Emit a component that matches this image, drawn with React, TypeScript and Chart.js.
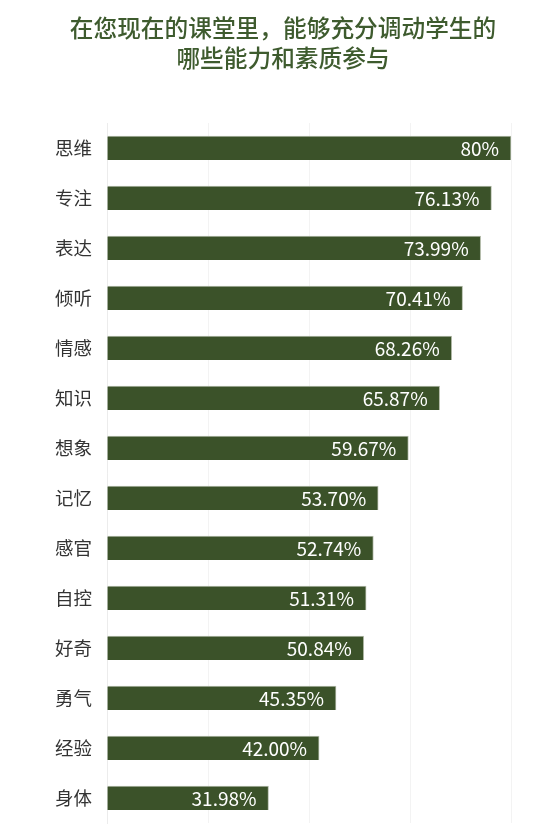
import React, { useEffect, useRef } from "react";
import { Chart, registerables } from "chart.js";

Chart.register(...registerables);

const titleLines = ["在您现在的课堂里，能够充分调动学生的", "哪些能力和素质参与"];
const categories = ["思维", "专注", "表达", "倾听", "情感", "知识", "想象", "记忆", "感官", "自控", "好奇", "勇气", "经验", "身体"];
const values = [80, 76.13, 73.99, 70.41, 68.26, 65.87, 59.67, 53.7, 52.74, 51.31, 50.84, 45.35, 42.0, 31.98];
const valueLabels = ["80%", "76.13%", "73.99%", "70.41%", "68.26%", "65.87%", "59.67%", "53.70%", "52.74%", "51.31%", "50.84%", "45.35%", "42.00%", "31.98%"];
const xTicks = [0, 20, 40, 60, 80];

const FONT = "'Noto Sans CJK SC', 'Noto Sans', sans-serif";
const BAR = "#3b5229";
const TITLE = "#3e5b2e";

const titlePlugin = {
  id: "customTitle",
  afterDraw(chart: any) {
    const { ctx } = chart;
    ctx.save();
    ctx.fillStyle = TITLE;
    ctx.font = `500 23.7px ${FONT}`;
    ctx.textAlign = "center";
    ctx.textBaseline = "middle";
    titleLines.forEach((t, i) => ctx.fillText(t, 283, 28 + i * 30));
    ctx.restore();
  },
};

const valueLabelPlugin = {
  id: "valueLabels",
  afterDatasetsDraw(chart: any) {
    const { ctx } = chart;
    const meta = chart.getDatasetMeta(0);
    ctx.save();
    ctx.fillStyle = "#ffffff";
    ctx.font = `400 19px ${FONT}`;
    ctx.textAlign = "right";
    ctx.textBaseline = "middle";
    meta.data.forEach((bar: any, i: number) => {
      ctx.fillText(valueLabels[i], bar.x - 12, bar.y + 1);
    });
    ctx.restore();
  },
};

export default function App() {
  const ref = useRef<HTMLCanvasElement>(null);
  useEffect(() => {
    document.body.style.margin = "0";
    const chart = new Chart(ref.current!, {
      type: "bar",
      data: {
        labels: categories,
        datasets: [
          {
            data: values,
            backgroundColor: BAR,
            barThickness: 24,
            borderColor: "#b4bcab",
            borderWidth: { top: 1, right: 1, bottom: 0, left: 0 },
            borderSkipped: false,
          },
        ],
      },
      options: {
        indexAxis: "y",
        animation: false,
        responsive: false,
        maintainAspectRatio: false,
        layout: { padding: { top: 123, right: 47, bottom: 5, left: 0 } },
        plugins: {
          legend: { display: false },
          tooltip: { enabled: false },
          title: { display: false },
        },
        scales: {
          x: {
            min: 0,
            max: 80,
            afterBuildTicks: (scale: any) => {
              scale.ticks = xTicks.map((v) => ({ value: v }));
            },
            ticks: { display: false },
            grid: { color: "#f3f3f3", drawTicks: false, tickLength: 0 },
            border: { display: false },
            afterFit: (scale: any) => {
              scale.height = 0;
              scale.paddingLeft = 0;
              scale.paddingRight = 0;
            },
          },
          y: {
            ticks: {
              color: "#333333",
              font: { family: FONT, size: 18.5 },
              padding: 15,
            },
            grid: { display: false, drawTicks: false, tickLength: 0 },
            border: { display: true, color: "#ececec" },
            afterFit: (scale: any) => {
              scale.width = 107;
              scale.paddingTop = 0;
              scale.paddingBottom = 0;
            },
          },
        },
      },
      plugins: [valueLabelPlugin, titlePlugin],
    });
    return () => chart.destroy();
  }, []);
  return (
    <div style={{ width: 558, height: 828 }}>
      <canvas ref={ref} width={558} height={828} style={{ display: "block", width: 558, height: 828 }} />
    </div>
  );
}
